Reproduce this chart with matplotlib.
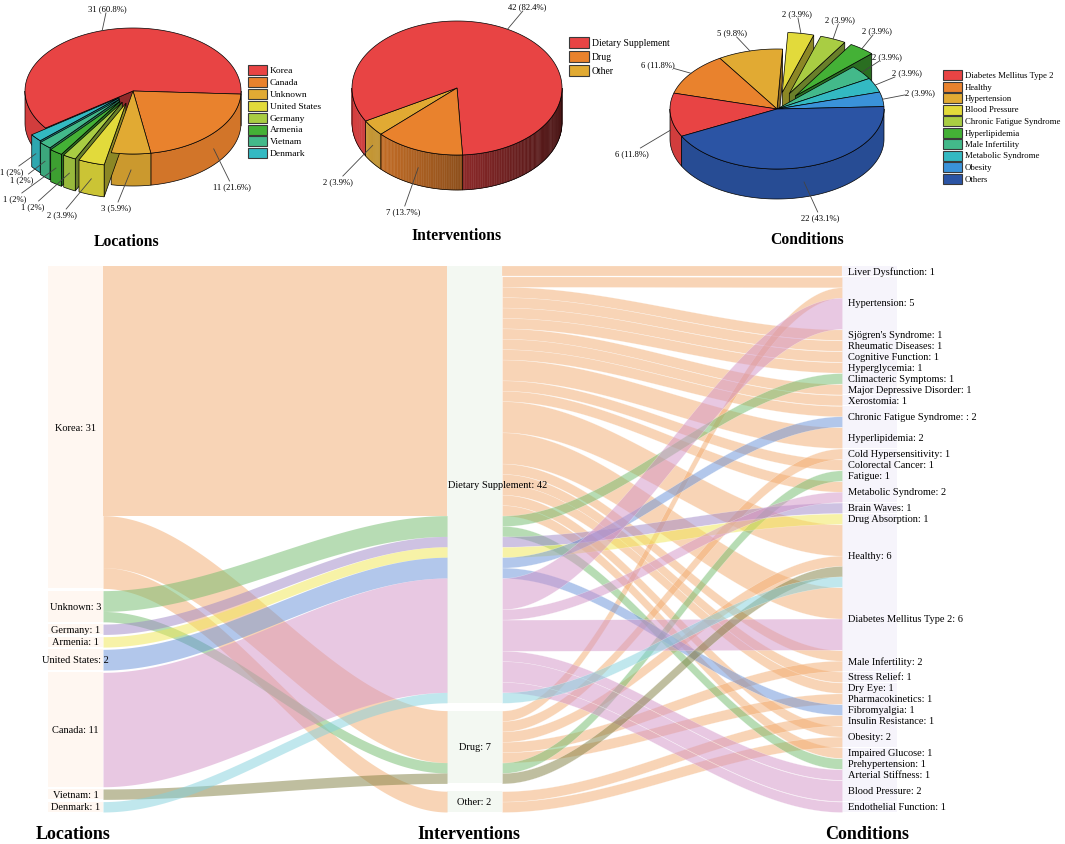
import numpy as np
import matplotlib
matplotlib.use("Agg")
import matplotlib.pyplot as plt
from matplotlib.patches import Polygon, Rectangle
from matplotlib.colors import to_rgb

plt.rcParams['font.family'] = ['Liberation Serif', 'DejaVu Serif']

W, H = 1065, 845

# ---------------- pie data ----------------
loc_names = ['Korea', 'Canada', 'Unknown', 'United States', 'Germany', 'Armenia', 'Vietnam', 'Denmark']
loc_counts = [31, 11, 3, 2, 1, 1, 1, 1]
int_names = ['Dietary Supplement', 'Drug', 'Other']
int_counts = [42, 7, 2]
cond_names = ['Diabetes Mellitus Type 2', 'Healthy', 'Hypertension', 'Blood Pressure',
              'Chronic Fatigue Syndrome', 'Hyperlipidemia', 'Male Infertility',
              'Metabolic Syndrome', 'Obesity', 'Others']
cond_counts = [6, 6, 5, 2, 2, 2, 2, 2, 2, 22]

pie_colors = ['#E84444', '#E9822D', '#E1AA33', '#E2DA3B', '#A9CD43', '#44B136',
              '#43B98A', '#33B9C2', '#3A92D9', '#2B54A4']

# ---------------- alluvial data ----------------
DS, DRUG, OTHER = 'Dietary Supplement', 'Drug', 'Other'
sk_locations = ['Korea', 'Unknown', 'Germany', 'Armenia', 'United States', 'Canada', 'Vietnam', 'Denmark']
sk_interventions = [DS, DRUG, OTHER]
sk_conditions = ['Liver Dysfunction', 'Hypertension', "Sjögren's Syndrome", 'Rheumatic Diseases',
                 'Cognitive Function', 'Hyperglycemia', 'Climacteric Symptoms',
                 'Major Depressive Disorder', 'Xerostomia', 'Chronic Fatigue Syndrome',
                 'Hyperlipidemia', 'Cold Hypersensitivity', 'Colorectal Cancer', 'Fatigue',
                 'Metabolic Syndrome', 'Brain Waves', 'Drug Absorption', 'Healthy',
                 'Diabetes Mellitus Type 2', 'Male Infertility', 'Stress Relief', 'Dry Eye',
                 'Pharmacokinetics', 'Fibromyalgia', 'Insulin Resistance', 'Obesity',
                 'Impaired Glucose', 'Prehypertension', 'Arterial Stiffness', 'Blood Pressure',
                 'Endothelial Function']
label_override = {'Chronic Fatigue Syndrome': 'Chronic Fatigue Syndrome: : 2'}

# (location, intervention, condition, number of trials)
flows = [
    ('Korea', DS, 'Liver Dysfunction', 1), ('Korea', DS, 'Hypertension', 1),
    ('Korea', DS, "Sjögren's Syndrome", 1), ('Korea', DS, 'Rheumatic Diseases', 1),
    ('Korea', DS, 'Cognitive Function', 1), ('Korea', DS, 'Hyperglycemia', 1),
    ('Korea', DS, 'Major Depressive Disorder', 1), ('Korea', DS, 'Xerostomia', 1),
    ('Korea', DS, 'Chronic Fatigue Syndrome', 1), ('Korea', DS, 'Hyperlipidemia', 2),
    ('Korea', DS, 'Colorectal Cancer', 1), ('Korea', DS, 'Metabolic Syndrome', 1),
    ('Korea', DS, 'Healthy', 3), ('Korea', DS, 'Diabetes Mellitus Type 2', 3),
    ('Korea', DS, 'Male Infertility', 1), ('Korea', DS, 'Stress Relief', 1),
    ('Korea', DS, 'Dry Eye', 1), ('Korea', DS, 'Obesity', 1), ('Korea', DS, 'Impaired Glucose', 1),
    ('Korea', DRUG, 'Hypertension', 1), ('Korea', DRUG, 'Cold Hypersensitivity', 1),
    ('Korea', DRUG, 'Healthy', 1), ('Korea', DRUG, 'Male Infertility', 1),
    ('Korea', DRUG, 'Pharmacokinetics', 1),
    ('Korea', OTHER, 'Insulin Resistance', 1), ('Korea', OTHER, 'Obesity', 1),
    ('Unknown', DS, 'Climacteric Symptoms', 1), ('Unknown', DS, 'Prehypertension', 1),
    ('Unknown', DRUG, 'Fatigue', 1),
    ('Germany', DS, 'Brain Waves', 1), ('Armenia', DS, 'Drug Absorption', 1),
    ('United States', DS, 'Chronic Fatigue Syndrome', 1), ('United States', DS, 'Fibromyalgia', 1),
    ('Canada', DS, 'Hypertension', 3), ('Canada', DS, 'Metabolic Syndrome', 1),
    ('Canada', DS, 'Diabetes Mellitus Type 2', 3), ('Canada', DS, 'Arterial Stiffness', 1),
    ('Canada', DS, 'Blood Pressure', 2), ('Canada', DS, 'Endothelial Function', 1),
    ('Vietnam', DRUG, 'Healthy', 1), ('Denmark', DS, 'Healthy', 1),
]

flow_colors = {'Korea': '#F3AB6E', 'Unknown': '#71BB6B', 'Germany': '#9F87C7',
               'Armenia': '#F1E751', 'United States': '#6791D9', 'Canada': '#D393C7',
               'Vietnam': '#817F41', 'Denmark': '#83D1DD'}


def pct_text(n, total):
    p = round(100 * n / total, 1)
    s = f"{p:.1f}".rstrip('0').rstrip('.')
    return f"{n} ({s}%)"


def pie3d(ax, counts, colors, cx, cy, rx, ry, depth, start, explode,
          label_xy, gradient=False, side_f=0.9):
    total = sum(counts)
    wedges = []
    a = np.radians(start)
    for i, c in enumerate(counts):
        span = 2 * np.pi * c / total
        hi, lo = a, a - span
        a = lo
        m = 0.5 * (lo + hi)
        e = explode[i]
        x0 = cx + e * np.cos(m)
        y0 = cy - e * (ry / rx) * np.sin(m)
        th = np.linspace(lo, hi, max(4, int(np.degrees(span)) + 2))
        ex, ey = x0 + rx * np.cos(th), y0 - ry * np.sin(th)
        wedges.append(dict(lo=lo, hi=hi, m=m, x0=x0, y0=y0, ex=ex, ey=ey, key=ey.max(),
                           base=np.array(to_rgb(colors[i])), i=i))
    n = len(wedges)

    order = sorted(wedges, key=lambda w: w['key'])
    for w in order:
        x0, y0, base, i = w['x0'], w['y0'], w['base'], w['i']
        # radial faces: only where a gap opens next to an exploded slice
        for b, nrm, nb in ((w['lo'], w['lo'] - np.pi / 2, (i + 1) % n),
                           (w['hi'], w['hi'] + np.pi / 2, (i - 1) % n)):
            if np.sin(nrm) < -1e-6 and (explode[i] > 0 or explode[nb] > 0):
                bx, by = x0 + rx * np.cos(b), y0 - ry * np.sin(b)
                quad = [(x0, y0), (bx, by), (bx, by + depth), (x0, y0 + depth)]
                ax.add_patch(Polygon(quad, closed=True, facecolor=base * 0.62,
                                     edgecolor='black', lw=0.5))
        # outer curved side, front half only
        cuts = [w['lo']]
        k = np.ceil(w['lo'] / np.pi)
        while k * np.pi < w['hi']:
            cuts.append(k * np.pi)
            k += 1
        cuts.append(w['hi'])
        for t1, t2 in zip(cuts[:-1], cuts[1:]):
            if t2 - t1 < 1e-6 or np.sin(0.5 * (t1 + t2)) >= 0:
                continue
            th = np.linspace(t1, t2, max(3, int(np.degrees(t2 - t1)) + 2))
            px, py = x0 + rx * np.cos(th), y0 - ry * np.sin(th)
            if gradient:
                for j in range(len(th) - 1):
                    f = np.clip(0.62 - 0.3 * np.cos(0.5 * (th[j] + th[j + 1])), 0.3, 0.95)
                    q = [(px[j], py[j]), (px[j + 1], py[j + 1]),
                         (px[j + 1], py[j + 1] + depth), (px[j], py[j] + depth)]
                    ax.add_patch(Polygon(q, closed=True, facecolor=base * f,
                                         edgecolor=base * f, lw=0.3))
                fc = 'none'
            else:
                fc = base * side_f
            outline = list(zip(px, py)) + list(zip(px[::-1], py[::-1] + depth))
            ax.add_patch(Polygon(outline, closed=True, facecolor=fc,
                                 edgecolor='black', lw=0.5))
    for w in order:
        pts = [(w['x0'], w['y0'])] + list(zip(w['ex'], w['ey']))
        ax.add_patch(Polygon(pts, closed=True, facecolor=w['base'],
                             edgecolor='black', lw=0.5))

    # value labels with leader lines
    for w in wedges:
        m = w['m']
        axp = w['x0'] + rx * np.cos(m)
        ayp = w['y0'] - ry * np.sin(m)
        if np.sin(m) < 0:
            ayp += depth * 0.5
        txt = pct_text(counts[w['i']], total)
        lx, ly = label_xy[w['i']]
        dx, dy = axp - lx, ayp - ly
        hw, hh = len(txt) * 1.6 + 2, 5
        t = min(hw / max(abs(dx), 1e-6), hh / max(abs(dy), 1e-6), 1.0)
        ax.plot([lx + t * dx, axp], [ly + t * dy, ayp], color='#444444', lw=0.6)
        ax.text(lx, ly, txt, ha='center', va='center', fontsize=6.2)


def legend_box(ax, names, colors, x, y, dy, fs, bw=19, bh=10):
    for k, nm in enumerate(names):
        yy = y + k * dy
        ax.add_patch(Rectangle((x, yy - bh / 2), bw, bh, facecolor=colors[k],
                               edgecolor='#3a3a3a', lw=0.8))
        ax.text(x + bw + 3, yy, nm, ha='left', va='center', fontsize=fs)


fig = plt.figure(figsize=(W / 100, H / 100), dpi=100)

# ---------------- top: three 3D pies ----------------
ax_top = fig.add_axes([0, 1 - 258 / H, 1, 258 / H])
ax_top.set_xlim(0, W)
ax_top.set_ylim(258, 0)
ax_top.axis('off')

pie3d(ax_top, loc_counts, pie_colors[:8], 133, 92, 108, 63, 32, 216,
      [0, 0, 0, 22, 22, 22, 20, 18],
      [(107, 9), (232, 187), (116, 208), (62, 215), (33, 207), (15, 199), (22, 180), (12, 172)])
legend_box(ax_top, loc_names, pie_colors[:8], 248, 71, 11.9, 6.8)
ax_top.text(127, 242, 'Locations', ha='center', va='center', fontsize=11.3, fontweight='bold')

pie3d(ax_top, int_counts, pie_colors[:3], 457, 89, 105, 67, 35, 209.5,
      [0, 0, 0], [(527, 7), (403, 212), (338, 182)], gradient=True)
legend_box(ax_top, int_names, pie_colors[:3], 569, 43, 14, 6.9, bw=20, bh=11)
ax_top.text(457, 236, 'Interventions', ha='center', va='center', fontsize=11.3, fontweight='bold')

pie3d(ax_top, cond_counts, pie_colors, 777, 110, 107, 60, 30, 207,
      [0, 0, 0, 30, 30, 30, 0, 0, 0, 0],
      [(632, 154), (658, 65), (732, 33), (797, 14), (840, 20), (877, 31), (887, 57),
       (907, 73), (920, 93), (820, 218)])
legend_box(ax_top, cond_names, pie_colors, 943, 76, 11.5, 6.3)
ax_top.text(807, 240, 'Conditions', ha='center', va='center', fontsize=11.3, fontweight='bold')

# ---------------- bottom: alluvial diagram ----------------
gap_right = 0.05
T = sum(f[3] for f in flows) + (len(sk_conditions) - 1) * gap_right
ax = fig.add_axes([0, 1 - 813 / H, 1, (813 - 267) / H])
ax.set_xlim(0, W)
ax.set_ylim(T, 0)
ax.axis('off')

cols = [sk_locations, sk_interventions, sk_conditions]
loc_i = {n: i for i, n in enumerate(sk_locations)}
int_i = {n: i for i, n in enumerate(sk_interventions)}
cond_i = {n: i for i, n in enumerate(sk_conditions)}
sort_keys = [lambda f: (int_i[f[1]], cond_i[f[2]]),
             lambda f: (loc_i[f[0]], cond_i[f[2]]),
             lambda f: (loc_i[f[0]], int_i[f[1]])]
node_x = [48, 447, 842]
node_w = 55
node_fc = ['#FFF7F1', '#F3F8F2', '#F6F4FB']

lode_y = [[0.0] * len(flows) for _ in range(3)]
node_pos = []
for k in range(3):
    cnt = {n: 0 for n in cols[k]}
    for f in flows:
        cnt[f[k]] += f[3]
    gap = (T - sum(cnt.values())) / (len(cols[k]) - 1)
    y = 0.0
    pos = {}
    for nm in cols[k]:
        pos[nm] = (y, cnt[nm])
        idx = sorted([i for i, f in enumerate(flows) if f[k] == nm],
                     key=lambda i: sort_keys[k](flows[i]))
        yy = y
        for i in idx:
            lode_y[k][i] = yy
            yy += flows[i][3]
        y += cnt[nm] + gap
    node_pos.append(pos)

# node boxes
for k in range(3):
    for nm, (y0, c) in node_pos[k].items():
        ax.add_patch(Rectangle((node_x[k], y0), node_w, c, facecolor=node_fc[k],
                               edgecolor='none', zorder=1))


def ribbon(xa, xb, ya, yb, thick, color, edge_alpha):
    xs = np.linspace(xa, xb, 120)
    t = (xs - xa) / (xb - xa)
    s = t * t * (3 - 2 * t)
    top = ya + (yb - ya) * s
    ax.fill_between(xs, top, top + thick, facecolor=(*to_rgb(color), 0.5),
                    edgecolor=(1, 1, 1, edge_alpha), lw=0.3, zorder=2)


# locations -> interventions: one ribbon per (location, intervention) pair
pairs = {}
for i, f in enumerate(flows):
    key = (f[0], f[1])
    ya, yb, th = pairs.get(key, (np.inf, np.inf, 0))
    pairs[key] = (min(ya, lode_y[0][i]), min(yb, lode_y[1][i]), th + f[3])
for (loc, itv), (ya, yb, th) in pairs.items():
    ribbon(node_x[0] + node_w, node_x[1], ya, yb, th, flow_colors[loc], 0.0)

# interventions -> conditions
for i, f in enumerate(flows):
    ribbon(node_x[1] + node_w, node_x[2], lode_y[1][i], lode_y[2][i], f[3],
           flow_colors[f[0]], 0.45)

# node labels
for nm, (y0, c) in node_pos[0].items():
    ax.text(node_x[0] + node_w / 2, y0 + c / 2, f"{nm}: {c}", ha='center', va='center',
            fontsize=7.5, zorder=5)
for nm, (y0, c) in node_pos[1].items():
    lab = f"{nm}: {c}"
    if len(lab) > 12:
        ax.text(node_x[1] + 1, y0 + c / 2, lab, ha='left', va='center', fontsize=7.5, zorder=5)
    else:
        ax.text(node_x[1] + node_w / 2, y0 + c / 2, lab, ha='center', va='center',
                fontsize=7.5, zorder=5)
for nm, (y0, c) in node_pos[2].items():
    lab = label_override.get(nm, f"{nm}: {c}")
    ax.text(node_x[2] + 6, y0 + c / 2, lab, ha='left', va='center', fontsize=7.5, zorder=5)

for xc, name in ((73, 'Locations'), (469, 'Interventions'), (867, 'Conditions')):
    fig.text(xc / W, 1 - 835 / H, name, ha='center', va='center', fontsize=13,
             fontweight='bold')

fig.savefig('out.png', dpi=100)
